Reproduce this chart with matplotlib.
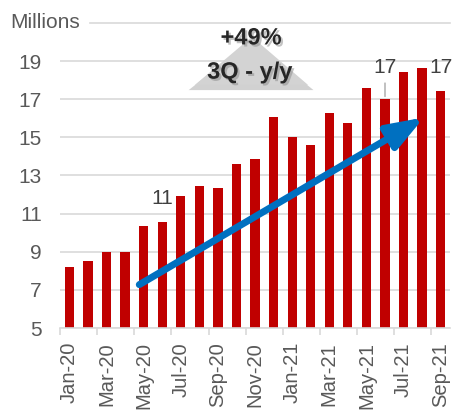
import matplotlib
matplotlib.use("Agg")
import matplotlib.pyplot as plt
import matplotlib.patheffects as pe
from matplotlib.patches import Polygon

plt.rcParams['font.family'] = ['Liberation Sans', 'DejaVu Sans']

# monthly values, millions
months = ['Jan-20', 'Feb-20', 'Mar-20', 'Apr-20', 'May-20', 'Jun-20', 'Jul-20',
          'Aug-20', 'Sep-20', 'Oct-20', 'Nov-20', 'Dec-20', 'Jan-21', 'Feb-21',
          'Mar-21', 'Apr-21', 'May-21', 'Jun-21', 'Jul-21', 'Aug-21', 'Sep-21']
values = [8.2, 8.5, 9.0, 9.0, 10.35, 10.55, 11.9, 12.45, 12.33, 13.6, 13.87, 16.05,
          15.04, 14.6, 16.26, 15.74, 17.6, 17.0, 18.45, 18.66, 17.43]
yticks = [5, 7, 9, 11, 13, 15, 17, 19]
# labelled bars: index -> label text
labels = {5: '11', 17: '17', 20: '17'}
# trend arrow (start/end month index and value)
arrow_start = (3.64, 7.2)
arrow_end = (19.23, 16.12)

red = '#C00000'
grid = '#D9D9D9'
txt = '#595959'

fig = plt.figure(figsize=(4.53, 4.11), dpi=100)
ax = fig.add_axes([60/453, 1-328/411, 390/453, 305/411])

x = list(range(len(months)))
ax.bar(x, values, width=0.5, color=red, zorder=2)

ax.set_xlim(-0.5, len(months)-0.5)
ax.set_ylim(5, 21)
ax.set_yticks(yticks)
ax.set_yticklabels([str(t) for t in yticks])
ax.tick_params(axis='y', length=0, pad=13, labelsize=15, labelcolor=txt)
ax.yaxis.grid(True, color=grid, lw=1.2, zorder=0)
ax.set_axisbelow(True)

# x ticks: marks at boundaries, labels every other month
ax.set_xticks([i - 0.5 for i in range(0, len(months), 2)])
ax.set_xticklabels([])
ax.tick_params(axis='x', which='major', length=5, color=grid, width=1.2)
ax.set_xticks(x[::2], minor=True)
ax.set_xticklabels(months[::2], minor=True, rotation=90)
ax.tick_params(axis='x', which='minor', length=0, pad=10, labelsize=14.5, labelcolor=txt)

for s in ['left', 'right', 'top']:
    ax.spines[s].set_visible(False)
ax.spines['bottom'].set_color(grid)
ax.spines['bottom'].set_linewidth(1.2)

# top line and "Millions"
ax.axhline(21, xmin=30/390, xmax=1, color=grid, lw=1.2, clip_on=False)
ax.text(-50/390, 1.0, 'Millions', transform=ax.transAxes, ha='left', va='center',
        fontsize=15, color=txt)

# data labels
for i, lab in labels.items():
    if i == 17:
        ax.annotate(lab, xy=(i, values[i]), xytext=(i, values[i] + 1.64),
                    ha='center', va='center', fontsize=15, color='#404040',
                    arrowprops=dict(arrowstyle='-', color='#A6A6A6', lw=1,
                                    shrinkA=2, shrinkB=2))
    else:
        ax.text(i, values[i] + 1.25, lab, ha='center', va='center',
                fontsize=15, color='#404040', clip_on=False)

# trend arrow
ax.annotate('', xy=arrow_end, xytext=arrow_start,
            arrowprops=dict(arrowstyle='-|>,head_length=1.1,head_width=0.4',
                            color='#0070C0', lw=5, mutation_scale=20), zorder=4)

# callout
shadow = Polygon([(0.33, 0.78), (0.492, 0.945), (0.65, 0.78)], closed=True,
                 transform=ax.transAxes, facecolor='#9a9a9a', alpha=0.45,
                 edgecolor='none', zorder=3, clip_on=False)
tri = Polygon([(0.346, 0.797), (0.492, 0.955), (0.636, 0.797)], closed=True,
              transform=ax.transAxes, facecolor='#D3D3D3', edgecolor='none',
              zorder=3, clip_on=False)
ax.add_patch(shadow)
ax.add_patch(tri)
sh = [pe.SimplePatchShadow(offset=(1.5, -1.5), shadow_rgbFace='#888888', alpha=0.5), pe.Normal()]
ax.text(0.490, 0.951, '+49%', transform=ax.transAxes, ha='center', va='center',
        fontsize=17, fontweight='bold', color='#262626', zorder=5, path_effects=sh)
ax.text(0.487, 0.839, '3Q - y/y', transform=ax.transAxes, ha='center', va='center',
        fontsize=17, fontweight='bold', color='#262626', zorder=5, path_effects=sh)

fig.savefig('out.png', dpi=100)
